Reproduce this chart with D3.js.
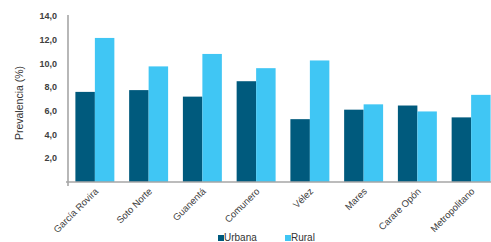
<!DOCTYPE html>
<html>
<head>
<meta charset="utf-8">
<script src="https://cdn.jsdelivr.net/npm/d3@7"></script>
<style>
  body { margin: 0; background: #fff; }
  svg { font-family: "Liberation Sans", Arial, sans-serif; }
</style>
</head>
<body>
<div id="chart"></div>
<script>
const regions = ["García Rovira", "Soto Norte", "Guanentá", "Comunero", "Vélez", "Mares", "Carare Opón", "Metropolitano"];
const urbana = [7.6, 7.75, 7.2, 8.5, 5.3, 6.1, 6.45, 5.45];
const rural = [12.15, 9.75, 10.8, 9.6, 10.25, 6.55, 5.95, 7.35];
const yTicks = [2, 4, 6, 8, 10, 12, 14];
const seriesNames = ["Urbana", "Rural"];
const colors = ["#005a7d", "#40c6f4"];

const width = 491, height = 242;
const margin = { top: 16, right: -7, bottom: 60, left: 68 };
const innerW = width - margin.left - margin.right;
const innerH = height - margin.top - margin.bottom;

const svg = d3.select('#chart')
    .append('svg')
    .attr('width', width)
    .attr('height', height);

const g = svg.append('g')
    .attr('transform', `translate(${margin.left}, ${margin.top})`);

const x = d3.scaleBand()
    .domain(regions)
    .range([0, innerW])
    .paddingInner(0.275)
    .paddingOuter(0.1375);

const x1 = d3.scaleBand()
    .domain(seriesNames)
    .range([0, x.bandwidth()]);

const y = d3.scaleLinear()
    .domain([0, 14])
    .range([innerH, 0]);

// bars
const data = regions.map((r, i) => ({ region: r, values: [urbana[i], rural[i]] }));

const groups = g.selectAll('.grp')
    .data(data)
    .enter()
    .append('g')
    .attr('transform', d => `translate(${x(d.region)},0)`);

groups.selectAll('rect')
    .data(d => d.values.map((v, i) => ({ key: seriesNames[i], value: v, idx: i })))
    .enter()
    .append('rect')
    .attr('x', d => x1(d.key))
    .attr('y', d => y(d.value))
    .attr('width', x1.bandwidth())
    .attr('height', d => innerH - y(d.value))
    .attr('fill', d => colors[d.idx]);

// axes lines
g.append('line')
    .attr('x1', 0).attr('x2', 0)
    .attr('y1', -1).attr('y2', innerH + 4)
    .attr('stroke', '#a6a6a6').attr('stroke-width', 1.6);

g.append('line')
    .attr('x1', -2).attr('x2', innerW)
    .attr('y1', innerH).attr('y2', innerH)
    .attr('stroke', '#a6a6a6').attr('stroke-width', 1.6);

// y tick labels
g.selectAll('.ytick')
    .data(yTicks)
    .enter()
    .append('text')
    .attr('x', -11)
    .attr('y', d => y(d))
    .attr('dy', '0.35em')
    .attr('text-anchor', 'end')
    .style('font-size', '9px')
    .style('font-weight', 'bold')
    .style('fill', '#404040')
    .text(d => d.toFixed(1).replace('.', ','));

// y axis title
svg.append('text')
    .attr('transform', `translate(23, ${margin.top + 87}) rotate(-90)`)
    .attr('text-anchor', 'middle')
    .style('font-size', '10.5px')
    .style('fill', '#333')
    .text('Prevalencia (%)');

// x labels
g.selectAll('.xlabel')
    .data(regions)
    .enter()
    .append('text')
    .attr('transform', d => `translate(${x(d) + x.bandwidth() / 2 + 4}, ${innerH + 10}) rotate(-45)`)
    .attr('text-anchor', 'end')
    .style('font-size', '9.5px')
    .style('fill', '#404040')
    .text(d => d);

// legend
const legendX = [218, 285];
const legend = svg.selectAll('.legend')
    .data(seriesNames)
    .enter()
    .append('g')
    .attr('transform', (d, i) => `translate(${legendX[i]}, 235)`);

legend.append('rect')
    .attr('width', 6).attr('height', 6)
    .attr('y', 0)
    .attr('fill', (d, i) => colors[i]);

legend.append('text')
    .attr('x', 6)
    .attr('y', 6)
    .style('font-size', '10px')
    .style('fill', '#333')
    .text(d => d);
</script>
</body>
</html>
